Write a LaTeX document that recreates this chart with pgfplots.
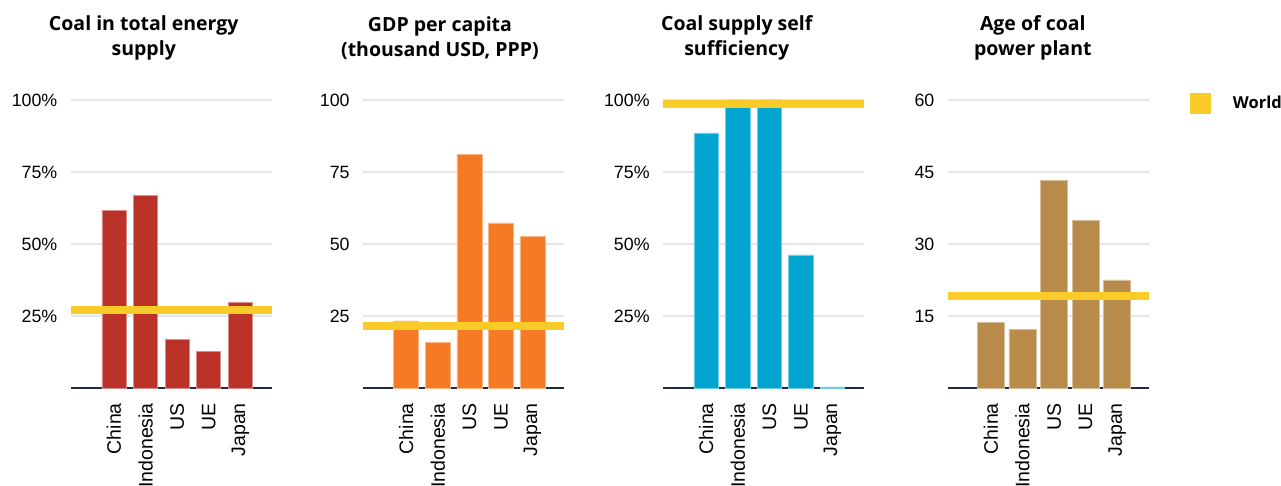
\documentclass[border=0pt]{standalone}
\usepackage{pgfplots}
\pgfplotsset{compat=1.18}
\usepackage{fontspec}
\setmainfont{Liberation Sans}
\newfontfamily\titlefont{Open Sans}
\definecolor{c1}{HTML}{BA3228}
\definecolor{c2}{HTML}{F47A25}
\definecolor{c3}{HTML}{00A5CF}
\definecolor{c4}{HTML}{B88B4A}
\definecolor{worldc}{HTML}{F9CB28}
\definecolor{gridc}{HTML}{E6E6E6}
\definecolor{basec}{HTML}{1F2A44}
\pgfplotsset{
 panel/.style={
  scale only axis, width=200.7pt, height=288pt, anchor=south west,
  xmin=-1.36, xmax=5, ymin=0, ymax=100,
  axis line style={draw=none}, major tick length=0pt,
  xtick={0,1,2,3,4}, xticklabels={China,Indonesia,US,UE,Japan},
  xticklabel style={font=\fontsize{19.5}{19.5}\selectfont, yshift=-15pt, rotate=90, anchor=east, inner sep=0pt},
  yticklabel style={font=\fontsize{17.8}{17.8}\selectfont, inner sep=0pt, xshift=-13.5pt},
  ymajorgrids, grid style={gridc, line width=1.2pt},
  extra y ticks={0}, extra y tick labels={},
  extra y tick style={grid style={basec, line width=1.2pt}},
  clip=false,
  title style={font=\titlefont\bfseries\fontsize{19.5}{25}\selectfont, align=center, anchor=center},
 },
 worldline/.style={worldc, line width=8pt, forget plot},
}
\begin{document}
\begin{tikzpicture}
\useasboundingbox (0,0) rectangle (1281pt,486pt);
% Panel 1
\begin{axis}[panel, at={(71pt,98pt)}, width=201pt,
  ytick={25,50,75,100}, yticklabels={25\%,50\%,75\%,100\%},
  title={Coal in total energy\\supply},
  title style={at={(axis description cs:0.362,1.195)}}]
\addplot[ybar, bar width=24pt, bar shift=0pt, fill=c1, draw=c1!55!white, line width=0.6pt]
  coordinates {(0,61.6) (1,67.0) (2,16.8) (3,12.7) (4,29.8)};
\addplot[worldline] coordinates {(-1.36,27.2) (5,27.2)};
\end{axis}
% Panel 2
\begin{axis}[panel, at={(363.3pt,98pt)},
  ytick={25,50,75,100}, yticklabels={25,50,75,100},
  title={GDP per capita\\(thousand USD, PPP)},
  title style={at={(axis description cs:0.382,1.195)}}]
\addplot[ybar, bar width=25pt, bar shift=0pt, fill=c2, draw=c2!55!white, line width=0.6pt]
  coordinates {(0,23.3) (1,15.7) (2,81.1) (3,57.3) (4,52.7)};
\addplot[worldline] coordinates {(-1.36,21.6) (5,21.6)};
\end{axis}
% Panel 3
\begin{axis}[panel, at={(663.3pt,98pt)},
  ytick={25,50,75,100}, yticklabels={25\%,50\%,75\%,100\%},
  title={Coal supply self\\sufficiency},
  title style={at={(axis description cs:0.366,1.195)}}]
\addplot[ybar, bar width=24.5pt, bar shift=0pt, fill=c3, draw=c3!55!white, line width=0.6pt]
  coordinates {(0,88.6) (1,100) (2,100) (3,46.2) (4,0.4)};
\addplot[worldline] coordinates {(-1.36,98.6) (5,98.6)};
\end{axis}
% Panel 4
\begin{axis}[panel, at={(948pt,98pt)}, ymax=60,
  ytick={15,30,45,60}, yticklabels={15,30,45,60},
  title={Age of coal\\power plant},
  title style={at={(axis description cs:0.4225,1.195)}},
  legend style={draw=none, fill=none, at={(axis description cs:1.206,0.988)}, anchor=west,
    inner sep=0pt, nodes={inner sep=0pt},
    font=\titlefont\bfseries\fontsize{16.5}{16.5}\selectfont,
    /tikz/every odd column/.style={column sep=21.7pt}},
  legend image code/.code={\fill[worldc, draw=none, line width=0pt] (0pt,-10.5pt) rectangle (21pt,10.5pt);}]
\addplot[ybar, bar width=27pt, bar shift=0pt, fill=c4, draw=c4!55!white, line width=0.6pt, forget plot]
  coordinates {(0,13.7) (1,12.2) (2,43.3) (3,34.9) (4,22.5)};
\addplot[worldc, line width=8pt] coordinates {(-1.36,19.2) (5,19.2)};
\addlegendentry{World}
\end{axis}
\end{tikzpicture}
\end{document}
